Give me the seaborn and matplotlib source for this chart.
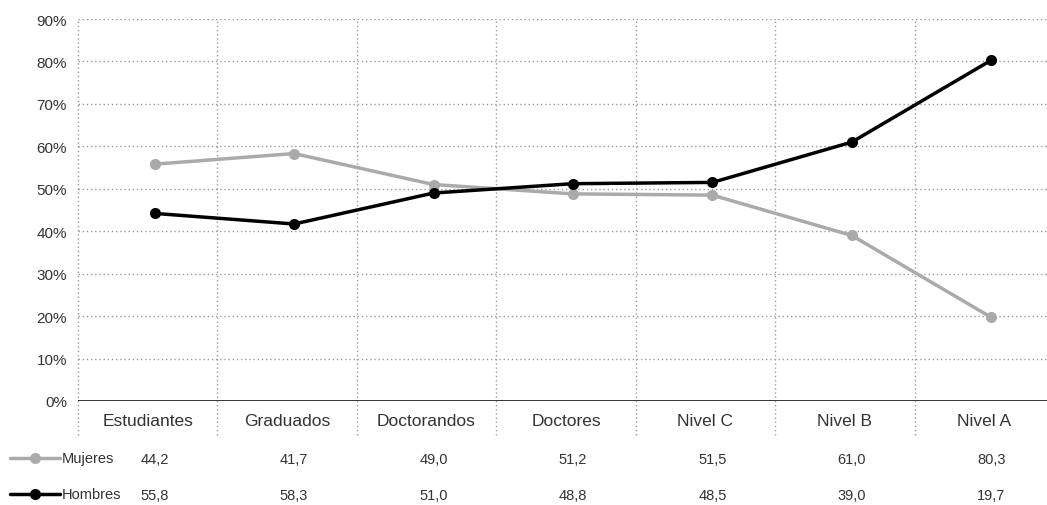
import numpy as np
import pandas as pd
import matplotlib
matplotlib.use('Agg')
import matplotlib.pyplot as plt
import seaborn as sns

# Datos
categorias = ['Estudiantes', 'Graduados', 'Doctorandos', 'Doctores', 'Nivel C', 'Nivel B', 'Nivel A']
linea_gris = [55.8, 58.3, 51.0, 48.8, 48.5, 39.0, 19.7]
linea_negra = [44.2, 41.7, 49.0, 51.2, 51.5, 61.0, 80.3]

# Tabla inferior tal como aparece
tabla_mujeres = ['44,2', '41,7', '49,0', '51,2', '51,5', '61,0', '80,3']
tabla_hombres = ['55,8', '58,3', '51,0', '48,8', '48,5', '39,0', '19,7']
ticks_y = [0, 10, 20, 30, 40, 50, 60, 70, 80, 90]

gris = '#aaaaaa'
negro = '#000000'
texto = '#333333'

sns.set_style('white')
plt.rcParams['font.family'] = ['Liberation Sans', 'DejaVu Sans']

# los puntos van algo desplazados a la derecha del centro de cada categoria
x = np.arange(len(categorias)) + 0.05
df = pd.DataFrame({
    'x': np.concatenate([x, x]),
    'valor': linea_gris + linea_negra,
    'serie': ['gris'] * len(x) + ['negra'] * len(x),
})

fig = plt.figure(figsize=(10.47, 5.06), dpi=100)
ax = fig.add_axes([78 / 1047, 104 / 506, 1 - 78 / 1047, 382 / 506])

sns.lineplot(data=df, x='x', y='valor', hue='serie', palette={'gris': gris, 'negra': negro},
             marker='o', markersize=8, markeredgewidth=0, linewidth=2.5, legend=False, ax=ax, zorder=5)

ax.set_ylim(0, 90)
ax.set_xlim(-0.5, 6.45)
ax.set_yticks(ticks_y)
ax.set_yticklabels([f'{v}%' for v in ticks_y], fontsize=11, color=texto)
ax.set_xticks([])
ax.set_xlabel('')
ax.set_ylabel('')
ax.tick_params(axis='y', length=0, pad=8)

for s in ax.spines.values():
    s.set_visible(False)

# cuadricula punteada
for v in ticks_y[1:]:
    ax.axhline(v, color='#999999', linestyle=(0, (1, 2)), linewidth=1, zorder=1)
for b in np.arange(-0.5, 6.5, 1.0):
    ax.axvline(b, ymin=-0.09, ymax=1, color='#999999', linestyle=(0, (1, 2)), linewidth=1,
               zorder=1, clip_on=False)
ax.axhline(0, color='#222222', linewidth=2, zorder=3)

# etiquetas de categorias
for i, c in enumerate(categorias):
    ax.text(i, -4.7, c, ha='center', va='center', fontsize=12.5, color=texto)

# tabla inferior
y_muj = -13.6
y_hom = -22.2
for i in range(len(categorias)):
    ax.text(x[i], y_muj, tabla_mujeres[i], ha='center', va='center', fontsize=10.5, color=texto)
    ax.text(x[i], y_hom, tabla_hombres[i], ha='center', va='center', fontsize=10.5, color=texto)

# leyenda con muestras de linea
lx0, lx1 = 10 / 1047, 60 / 1047
lxm = 35 / 1047
for yy, col, nombre in [(1 - 459 / 506, gris, 'Mujeres'), (1 - 495 / 506, negro, 'Hombres')]:
    fig.add_artist(plt.Line2D([lx0, lx1], [yy, yy], color=col, linewidth=2.5, transform=fig.transFigure))
    fig.add_artist(plt.Line2D([lxm], [yy], color=col, marker='o', markersize=8, markeredgewidth=0,
                              transform=fig.transFigure))
    fig.text(lx1 + 2 / 1047, yy, nombre, ha='left', va='center', fontsize=10.5, color=texto)

fig.savefig('out.png', dpi=100)
